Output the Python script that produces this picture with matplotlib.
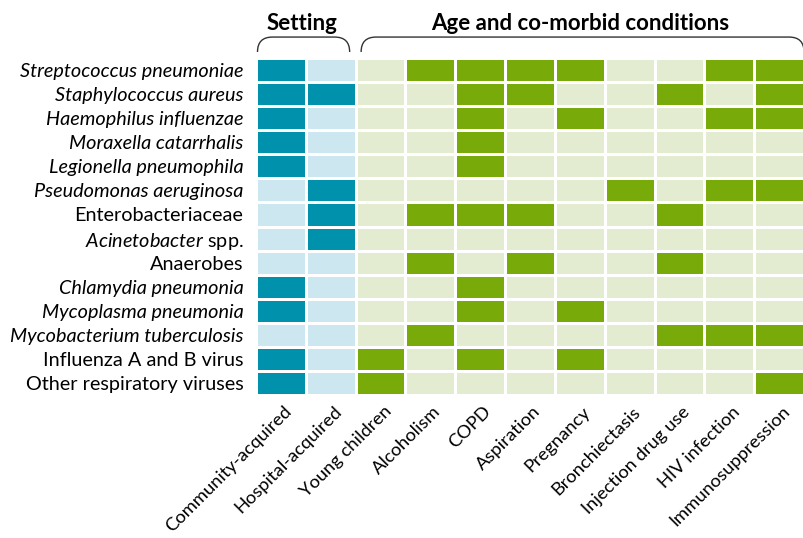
import numpy as np
import matplotlib
matplotlib.use("Agg")
import matplotlib.pyplot as plt
from matplotlib.colors import ListedColormap, BoundaryNorm
from matplotlib.path import Path
from matplotlib.patches import PathPatch

plt.rcParams['font.family'] = ['Lato', 'DejaVu Sans']
plt.rcParams['mathtext.fontset'] = 'custom'
plt.rcParams['mathtext.it'] = 'Lato:italic'
plt.rcParams['mathtext.rm'] = 'Lato'

# pathogens (rows) and risk-factor columns
pathogens = [
    "Streptococcus pneumoniae", "Staphylococcus aureus", "Haemophilus influenzae",
    "Moraxella catarrhalis", "Legionella pneumophila", "Pseudomonas aeruginosa",
    "Enterobacteriaceae", "Acinetobacter spp.", "Anaerobes", "Chlamydia pneumonia",
    "Mycoplasma pneumonia", "Mycobacterium tuberculosis", "Influenza A and B virus",
    "Other respiratory viruses",
]
italic_rows = [True, True, True, True, True, True, False, None, False, True,
               True, True, False, False]

setting_cols = ["Community-acquired", "Hospital-acquired"]
condition_cols = ["Young children", "Alcoholism", "COPD", "Aspiration", "Pregnancy",
                  "Bronchiectasis", "Injection drug use", "HIV infection",
                  "Immunosuppression"]

# 1 = associated, 0 = not
setting = np.array([
    [1, 0], [1, 1], [1, 0], [1, 0], [1, 0], [0, 1], [0, 1],
    [0, 1], [0, 0], [1, 0], [1, 0], [0, 0], [1, 0], [1, 0],
])
conditions = np.array([
    [0, 1, 1, 1, 1, 0, 0, 1, 1],
    [0, 0, 1, 1, 0, 0, 1, 0, 1],
    [0, 0, 1, 0, 1, 0, 0, 1, 1],
    [0, 0, 1, 0, 0, 0, 0, 0, 0],
    [0, 0, 1, 0, 0, 0, 0, 0, 0],
    [0, 0, 0, 0, 0, 1, 0, 1, 1],
    [0, 1, 1, 1, 0, 0, 1, 0, 0],
    [0, 0, 0, 0, 0, 0, 0, 0, 0],
    [0, 1, 0, 1, 0, 0, 1, 0, 0],
    [0, 0, 1, 0, 0, 0, 0, 0, 0],
    [0, 0, 1, 0, 1, 0, 0, 0, 0],
    [0, 1, 0, 0, 0, 0, 1, 1, 1],
    [1, 0, 1, 0, 1, 0, 0, 0, 0],
    [1, 0, 0, 0, 0, 0, 0, 0, 1],
])

# codes: 0 light blue, 1 teal, 2 light green, 3 green
codes = np.hstack([setting, conditions + 2])
cmap = ListedColormap(["#cce7ef", "#0092ac", "#e3ebd0", "#78ab0a"])
norm = BoundaryNorm([-0.5, 0.5, 1.5, 2.5, 3.5], cmap.N)

ncol = codes.shape[1]
nrow = codes.shape[0]

fig = plt.figure(figsize=(8.04, 5.38), dpi=100)
ax = fig.add_axes([256 / 804, 1 - 395 / 538, 548 / 804, 337 / 538])
ax.pcolormesh(np.arange(ncol + 1), np.arange(nrow + 1), codes, cmap=cmap, norm=norm,
              edgecolors="white", linewidth=2)
ax.set_xlim(0, ncol)
ax.set_ylim(nrow, 0)
for s in ax.spines.values():
    s.set_visible(False)
ax.tick_params(length=0)

ax.set_yticks(np.arange(nrow) + 0.5)
ylabels = []
for name, it in zip(pathogens, italic_rows):
    if it is None:
        ylabels.append(r"$\it{Acinetobacter}$ spp.")
    else:
        ylabels.append(name)
ax.set_yticklabels(ylabels, fontsize=14.3)
for lab, it in zip(ax.get_yticklabels(), italic_rows):
    if it:
        lab.set_fontstyle("italic")
ax.tick_params(axis="y", pad=9)

ax.set_xticks(np.arange(ncol) + 0.55)
ax.set_xticklabels(setting_cols + condition_cols, rotation=45, ha="right",
                   va="top", rotation_mode="anchor", fontsize=13.2)
ax.tick_params(axis="x", pad=6)


def bracket(x0, x1, yb, yt, r=0.3):
    verts = [(x0, yb), (x0, yt), (x0 + r, yt), (x1 - r, yt), (x1, yt), (x1, yb)]
    path_codes = [Path.MOVETO, Path.CURVE3, Path.CURVE3, Path.LINETO,
                  Path.CURVE3, Path.CURVE3]
    ax.add_patch(PathPatch(Path(verts, path_codes), fill=False, lw=1.0,
                           edgecolor="#333333", clip_on=False))


bracket(0.03, 1.88, -0.25, -0.87)
bracket(2.11, 11.0, -0.25, -0.87)

ax.text(0.93, -1.45, "Setting", ha="center", va="center", fontsize=16,
        fontweight="bold", clip_on=False)
ax.text(6.5, -1.45, "Age and co-morbid conditions", ha="center", va="center",
        fontsize=16, fontweight="bold", clip_on=False)

fig.savefig("out.png", dpi=100)
